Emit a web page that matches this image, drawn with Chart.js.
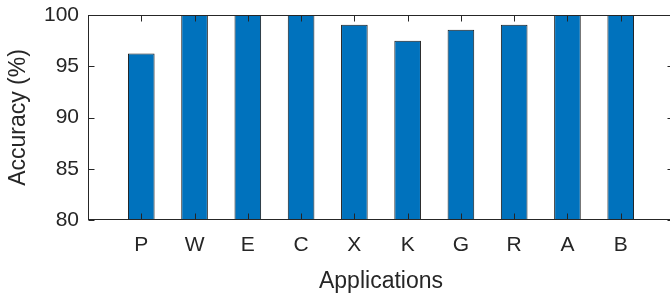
<!DOCTYPE html>
<html>
<head>
<meta charset="utf-8">
<script src="https://cdn.jsdelivr.net/npm/chart.js"></script>
<style>
body { margin: 0; overflow: hidden; background: #fff; }
#wrap { width: 676px; height: 295px; }
</style>
</head>
<body>
<div id="wrap"><canvas id="myChart" width="676" height="295"></canvas></div>
<script>
const apps = ['P', 'W', 'E', 'C', 'X', 'K', 'G', 'R', 'A', 'B'];
const accuracy = [96.25, 100, 100, 100, 99.05, 97.5, 98.55, 99.05, 100, 100];
const yTicks = [80, 85, 90, 95, 100];

const axisColor = '#262626';
const font = 'Liberation Sans, Arial, Helvetica, sans-serif';

// matlab style box with inward ticks, drawn on top of the bars
const boxPlugin = {
    id: 'box',
    afterDatasetsDraw(chart) {
        const ctx = chart.ctx;
        const a = chart.chartArea;
        const xs = chart.scales.x;
        const ys = chart.scales.y;
        const L = Math.round(a.left) + 0.5;
        const R = Math.round(a.right) - 0.5;
        const T = Math.round(a.top) + 0.5;
        const B = Math.round(a.bottom) - 0.5;
        const len = 6;
        ctx.save();
        ctx.strokeStyle = axisColor;
        ctx.lineWidth = 1;
        ctx.strokeRect(L, T, R - L, B - T);
        ctx.beginPath();
        apps.forEach((_, i) => {
            const px = Math.round(xs.getPixelForValue(i + 1)) + 0.5;
            ctx.moveTo(px, B); ctx.lineTo(px, B - len);
            ctx.moveTo(px, T); ctx.lineTo(px, T + len);
        });
        yTicks.forEach(v => {
            const py = Math.round(ys.getPixelForValue(v)) + 0.5;
            ctx.moveTo(L, py); ctx.lineTo(L + len, py);
            ctx.moveTo(R, py); ctx.lineTo(R - len, py);
        });
        ctx.stroke();
        ctx.restore();
    }
};

const ctx = document.getElementById('myChart').getContext('2d');
new Chart(ctx, {
    type: 'bar',
    data: {
        labels: ['', ...apps, ''],
        datasets: [{
            data: [null, ...accuracy, null],
            backgroundColor: '#0072BD',
            borderColor: '#1a1a1a',
            borderWidth: 1,
            barPercentage: 0.5,
            categoryPercentage: 1
        }]
    },
    options: {
        responsive: false,
        animation: false,
        layout: { padding: { top: 15, right: 2, left: 0, bottom: 0 } },
        plugins: {
            legend: { display: false },
            tooltip: { enabled: false }
        },
        scales: {
            x: {
                offset: false,
                grid: { display: false, drawTicks: false },
                border: { display: false },
                ticks: {
                    color: axisColor,
                    font: { family: font, size: 21 },
                    padding: 13,
                    autoSkip: false,
                    maxRotation: 0
                },
                title: {
                    display: true,
                    text: 'Applications',
                    color: axisColor,
                    font: { family: font, size: 23 },
                    padding: { top: 5, bottom: 0 }
                },
                afterFit: s => {
                    s.height = 75;
                    s.paddingLeft = 0;
                    s.paddingRight = 0;
                }
            },
            y: {
                min: 80,
                max: 100,
                grid: { display: false, drawTicks: false },
                border: { display: false },
                afterBuildTicks: s => { s.ticks = yTicks.map(v => ({ value: v })); },
                ticks: {
                    color: axisColor,
                    font: { family: font, size: 21 },
                    padding: 9
                },
                title: {
                    display: true,
                    text: 'Accuracy (%)',
                    color: axisColor,
                    font: { family: font, size: 23 },
                    padding: { top: 5, bottom: 0 }
                },
                afterFit: s => {
                    s.width = 88;
                    s.paddingTop = 0;
                    s.paddingBottom = 0;
                }
            }
        }
    },
    plugins: [boxPlugin]
});
</script>
</body>
</html>
